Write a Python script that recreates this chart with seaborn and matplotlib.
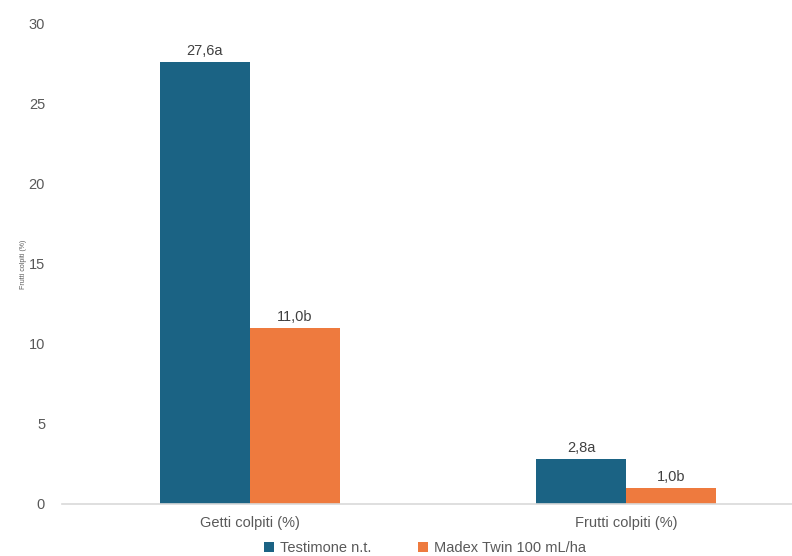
import matplotlib
matplotlib.use('Agg')
import matplotlib.pyplot as plt
import pandas as pd
import seaborn as sns

categories = ['Getti colpiti (%)', 'Frutti colpiti (%)']
series = ['Testimone n.t.', 'Madex Twin 100 mL/ha']
testimone = [27.6, 2.8]
madex = [11.0, 1.0]
labels_testimone = ['27,6a', '2,8a']
labels_madex = ['11,0b', '1,0b']
colors = ['#1b6384', '#ee7a3e']

df = pd.DataFrame({
    'Categoria': categories * 2,
    'Serie': [series[0]] * 2 + [series[1]] * 2,
    'Valore': testimone + madex,
})

sns.set_theme(style='white')
plt.rcParams['font.family'] = ['Liberation Sans', 'DejaVu Sans']

fig = plt.figure(figsize=(7.92, 5.56), dpi=100)
ax = fig.add_axes([0.078, 0.094, 0.922, 0.863])

sns.barplot(data=df, x='Categoria', y='Valore', hue='Serie', order=categories,
            hue_order=series, palette=colors, width=0.478, saturation=1,
            edgecolor='none', ax=ax)

for cont, labs in zip(ax.containers, [labels_testimone, labels_madex]):
    ax.bar_label(cont, labels=labs, padding=3, fontsize=10.5, color='#404040')

ax.set_ylim(0, 30)
ax.set_xlim(-0.5, 1.44)
ax.set_yticks([0, 5, 10, 15, 20, 25, 30])
ax.tick_params(axis='y', labelsize=10.5, labelcolor='#595959', length=0, pad=12)
ax.tick_params(axis='x', labelsize=10.5, labelcolor='#595959', length=0, pad=9)
ax.set_xlabel('')
ax.set_ylabel('Frutti colpiti (%)', fontsize=5, color='#595959', labelpad=1)

for s in ['top', 'right', 'left']:
    ax.spines[s].set_visible(False)
ax.spines['bottom'].set_color('#d9d9d9')
ax.spines['bottom'].set_linewidth(1.2)

ax.legend(loc='lower center', bbox_to_anchor=(0.497, -0.12), ncol=2, frameon=False,
          fontsize=10.5, handlelength=0.7, handleheight=0.7, handletextpad=0.4,
          columnspacing=3.2, labelcolor='#595959', borderaxespad=0)

fig.savefig('out.png', dpi=100)
